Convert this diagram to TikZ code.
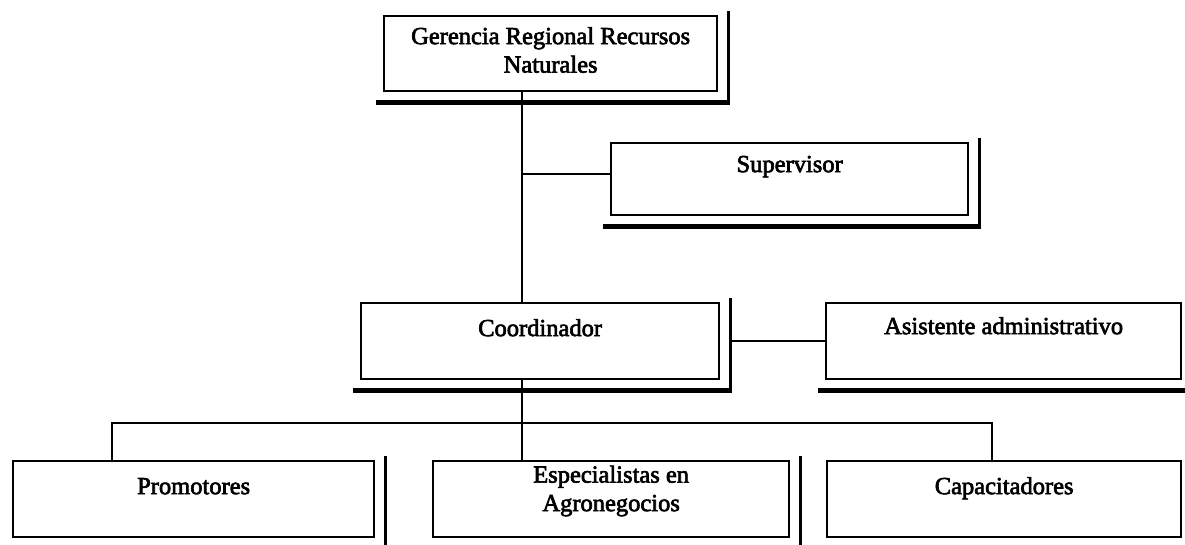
\documentclass[tikz,border=0pt]{standalone}
\usepackage{fontspec}
\setmainfont{Liberation Serif}
\newfontfamily\orgfont{Liberation Serif}[FakeBold=2.6]
\usetikzlibrary{calc}
\tikzset{
  orgbox/.style={draw, line width=2.3pt, rectangle, inner sep=0pt, anchor=north west,
    font=\orgfont\fontsize{24.5}{28.5}\selectfont},
  conn/.style={line width=2.4pt},
  shb/.style={line width=4.4pt},
  shr/.style={line width=2.8pt},
}
\newcommand\bxt[4]{\parbox[c][#2pt][t]{#1pt}{\centering\vspace*{#3pt}\strut #4}}
\newcommand\boxshadow[1]{%
  \draw[shb] ([xshift=-7pt,yshift=-10pt]#1.south west) -- ([xshift=11.4pt,yshift=-10pt]#1.south east);
  \draw[shr] ([xshift=10pt,yshift=4pt]#1.north east) -- ([xshift=10pt,yshift=-12.2pt]#1.south east);}
\begin{document}
\begin{tikzpicture}[x=1pt,y=-1pt]
\useasboundingbox (0,0) rectangle (1185,544);
\fill[white] (0,0) rectangle (1185,544);
\clip (0,0) rectangle (1185,544);

\node[orgbox] (ger)   at (383,15)  {\bxt{333}{75}{8}{Gerencia Regional Recursos\\Naturales}};
\node[orgbox] (sup)   at (610,142) {\bxt{357}{72}{9}{Supervisor}};
\node[orgbox] (coord) at (360,302) {\bxt{358}{76}{13}{Coordinador}};
\node[orgbox] (asis)  at (825,302) {\bxt{355}{76}{11}{Asistente administrativo}};
\node[orgbox] (prom)  at (12,460)  {\bxt{361}{76}{13}{Promotores}};
\node[orgbox] (esp)   at (432,460) {\bxt{356}{76}{1.5}{Especialistas en\\Agronegocios}};
\node[orgbox] (cap)   at (826,460) {\bxt{354}{76}{13}{Capacitadores}};

\coordinate (tx) at (522,0);
\coordinate (dp) at (112,423);
\coordinate (de) at (522,423);
\coordinate (dc) at (992,423);

\draw[conn] (ger.south -| tx) -- (coord.north -| tx);
\draw[conn] ([yshift=5pt]sup.west) -- ([yshift=5pt]sup.west -| tx);
\draw[conn] ([xshift=10pt]coord.east) -- (asis.west);
\draw[conn] (coord.south -| tx) -- (de);
\draw[conn] (prom.north -| dp) -- (dp) -- (dc) -- (cap.north -| dc);
\draw[conn] (de) -- (esp.north -| de);

\boxshadow{ger}
\boxshadow{sup}
\boxshadow{coord}
\boxshadow{asis}
\boxshadow{prom}
\boxshadow{esp}
\boxshadow{cap}
\end{tikzpicture}
\end{document}
